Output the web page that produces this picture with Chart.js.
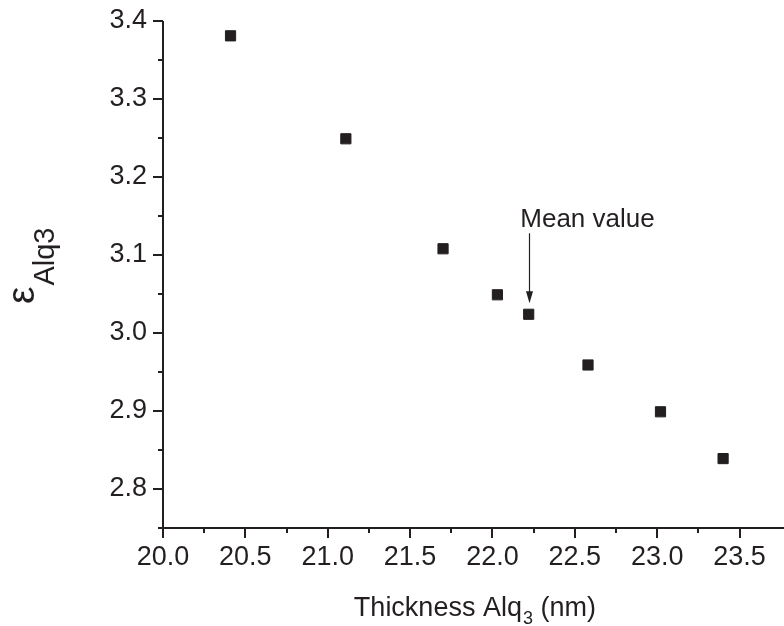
<!DOCTYPE html>
<html>
<head>
<meta charset="utf-8">
<script src="https://cdn.jsdelivr.net/npm/chart.js@4/dist/chart.umd.min.js"></script>
<style>
  html, body { margin: 0; padding: 0; background: #ffffff; }
  canvas { display: block; }
</style>
</head>
<body>
<canvas id="c" width="784" height="626"></canvas>
<script>
// ---- data ----
const thickness = [20.41, 21.11, 21.70, 22.03, 22.22, 22.58, 23.02, 23.40];
const epsilon   = [3.381, 3.249, 3.108, 3.049, 3.024, 2.959, 2.899, 2.839];
const xTickValues  = [20.0, 20.5, 21.0, 21.5, 22.0, 22.5, 23.0, 23.5];
const xMinorTicks  = [20.25, 20.75, 21.25, 21.75, 22.25, 22.75, 23.25];
const yTickValues  = [2.8, 2.9, 3.0, 3.1, 3.2, 3.3, 3.4];
const yMinorTicks  = [2.75, 2.85, 2.95, 3.05, 3.15, 3.25, 3.35];
const xTitleParts  = ["Thickness Alq", "3", " (nm)"];
const yTitleParts  = ["\u03B5", "Alq3"];
const annotationText = "Mean value";
const annotationIndex = 4;

const INK = '#231f20';
const FONT = '"Liberation Sans", Arial, Helvetica, sans-serif';

const axesPlugin = {
  id: 'axesPlugin',
  afterDraw(chart) {
    const ctx = chart.ctx;
    const xs = chart.scales.x, ys = chart.scales.y;
    const ca = chart.chartArea;
    ctx.save();
    ctx.strokeStyle = INK;
    ctx.fillStyle = INK;
    ctx.lineWidth = 2;
    // axis lines
    ctx.beginPath();
    ctx.moveTo(ca.left, ca.top);
    ctx.lineTo(ca.left, ca.bottom);
    ctx.moveTo(ca.left - 1, ca.bottom);
    ctx.lineTo(chart.width, ca.bottom);
    ctx.stroke();
    // ticks
    ctx.beginPath();
    xTickValues.forEach(v => { const p = Math.round(xs.getPixelForValue(v)); ctx.moveTo(p, ca.bottom); ctx.lineTo(p, ca.bottom + 10); });
    xMinorTicks.forEach(v => { const p = Math.round(xs.getPixelForValue(v)); ctx.moveTo(p, ca.bottom); ctx.lineTo(p, ca.bottom + 5); });
    yTickValues.forEach(v => { const p = Math.round(ys.getPixelForValue(v)); ctx.moveTo(ca.left, p); ctx.lineTo(ca.left - 10, p); });
    yMinorTicks.forEach(v => { const p = Math.round(ys.getPixelForValue(v)); ctx.moveTo(ca.left, p); ctx.lineTo(ca.left - 5, p); });
    ctx.stroke();

    // x title with subscript
    ctx.textBaseline = 'alphabetic';
    ctx.textAlign = 'left';
    const big = '27px ' + FONT, small = '18px ' + FONT;
    ctx.font = big; const w0 = ctx.measureText(xTitleParts[0]).width;
    ctx.font = small; const w1 = ctx.measureText(xTitleParts[1]).width;
    ctx.font = big; const w2 = ctx.measureText(xTitleParts[2]).width;
    const cx = (ca.left + ca.right) / 2 + 5;
    let x0 = cx - (w0 + w1 + w2) / 2;
    const by = 616;
    ctx.font = big; ctx.fillText(xTitleParts[0], x0, by);
    ctx.font = small; ctx.fillText(xTitleParts[1], x0 + w0 + 1, by + 8);
    ctx.font = big; ctx.fillText(xTitleParts[2], x0 + w0 + w1 + 1, by);

    // y title rotated
    ctx.save();
    ctx.translate(34, 304);
    ctx.rotate(-Math.PI / 2);
    ctx.font = '39px ' + FONT;
    ctx.fillText(yTitleParts[0], 0, 0);
    const we = ctx.measureText(yTitleParts[0]).width;
    ctx.font = '29px ' + FONT;
    ctx.fillText(yTitleParts[1], we + 1, 20);
    ctx.restore();

    // annotation
    const ax = Math.round(xs.getPixelForValue(thickness[annotationIndex])) + 0.5;
    const tip = ys.getPixelForValue(epsilon[annotationIndex]) - 11;
    const topY = tip - 70;
    ctx.lineWidth = 1.2;
    ctx.beginPath();
    ctx.moveTo(ax, topY);
    ctx.lineTo(ax, tip - 8);
    ctx.stroke();
    ctx.beginPath();
    ctx.moveTo(ax - 3.5, tip - 12);
    ctx.lineTo(ax + 3.5, tip - 12);
    ctx.lineTo(ax, tip);
    ctx.closePath();
    ctx.fill();
    ctx.font = '26px ' + FONT;
    ctx.textAlign = 'center';
    ctx.fillText(annotationText, ax + 58, topY - 6);
    ctx.restore();
  }
};

new Chart(document.getElementById('c'), {
  type: 'scatter',
  data: {
    datasets: [{
      data: thickness.map((x, i) => ({ x: x, y: epsilon[i] })),
      pointStyle: 'rect',
      pointRadius: 7.2,
      pointBorderWidth: 1,
      backgroundColor: INK,
      borderColor: INK,
      showLine: false
    }]
  },
  options: {
    responsive: false,
    animation: false,
    devicePixelRatio: 1,
    layout: { padding: { top: 21, right: 0, left: 0, bottom: 0 } },
    plugins: { legend: { display: false }, tooltip: { enabled: false } },
    scales: {
      x: {
        type: 'linear',
        min: 20,
        max: 23.72,
        afterBuildTicks: s => { s.ticks = xTickValues.map(v => ({ value: v })); },
        afterFit: s => { s.height = 98; s.paddingLeft = 0; s.paddingRight = 0; },
        grid: { display: false, drawTicks: false },
        border: { display: false },
        ticks: {
          autoSkip: false, maxRotation: 0, minRotation: 0,
          padding: 13,
          color: INK,
          font: { family: FONT, size: 27 },
          callback: v => Number(v).toFixed(1)
        }
      },
      y: {
        type: 'linear',
        min: 2.75,
        max: 3.4,
        afterBuildTicks: s => { s.ticks = yTickValues.map(v => ({ value: v })); },
        afterFit: s => { s.width = 163; s.paddingTop = 0; s.paddingBottom = 0; },
        grid: { display: false, drawTicks: false },
        border: { display: false },
        ticks: {
          autoSkip: false,
          padding: 16,
          color: INK,
          font: { family: FONT, size: 27 },
          callback: v => Number(v).toFixed(1)
        }
      }
    }
  },
  plugins: [axesPlugin]
});
</script>
</body>
</html>
